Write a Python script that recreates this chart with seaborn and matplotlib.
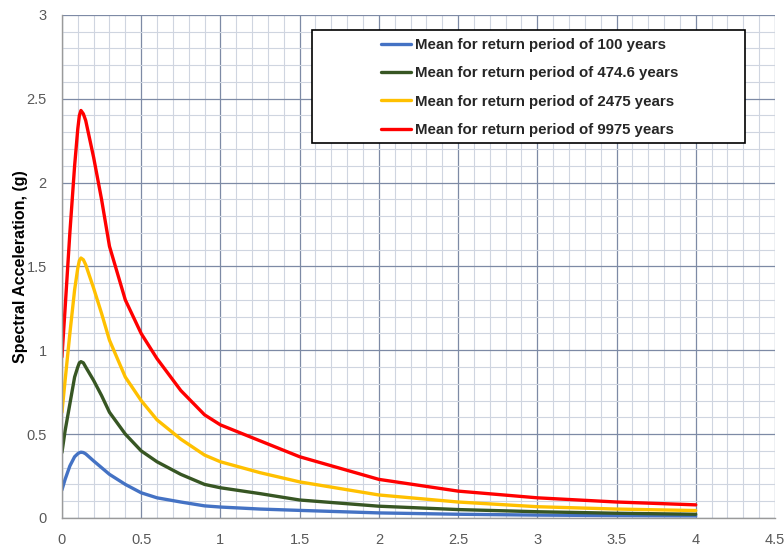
import numpy as np
import pandas as pd
import matplotlib
matplotlib.use("Agg")
import matplotlib.pyplot as plt
import seaborn as sns
from matplotlib.ticker import MultipleLocator, FormatStrFormatter
from matplotlib.patches import Rectangle

# periods (s)
period = [0, 0.02, 0.05, 0.08, 0.1, 0.11, 0.12, 0.135, 0.15, 0.2, 0.25, 0.3, 0.4,
          0.5, 0.6, 0.75, 0.9, 1.0, 1.25, 1.5, 2.0, 2.5, 3.0, 3.5, 4.0]

sa_100 = [0.167, 0.23, 0.31, 0.365, 0.383, 0.389, 0.392, 0.39, 0.382, 0.34, 0.30,
          0.26, 0.20, 0.15, 0.12, 0.095, 0.072, 0.065, 0.053, 0.045, 0.03, 0.022,
          0.017, 0.014, 0.012]
sa_475 = [0.39, 0.52, 0.68, 0.84, 0.90, 0.925, 0.932, 0.925, 0.90, 0.82, 0.73,
          0.63, 0.50, 0.40, 0.335, 0.26, 0.20, 0.18, 0.145, 0.107, 0.07, 0.05,
          0.037, 0.028, 0.022]
sa_2475 = [0.63, 0.82, 1.10, 1.36, 1.49, 1.535, 1.55, 1.54, 1.51, 1.37, 1.22,
           1.06, 0.84, 0.70, 0.585, 0.47, 0.375, 0.335, 0.27, 0.215, 0.137, 0.095,
           0.067, 0.053, 0.044]
sa_9975 = [0.96, 1.25, 1.70, 2.10, 2.32, 2.40, 2.43, 2.41, 2.37, 2.15, 1.90, 1.62,
           1.30, 1.10, 0.95, 0.76, 0.615, 0.555, 0.46, 0.365, 0.23, 0.16, 0.12,
           0.095, 0.078]

labels = ["Mean for return period of 100 years",
          "Mean for return period of 474.6 years",
          "Mean for return period of 2475 years",
          "Mean for return period of 9975 years"]
colors = ["#4472C4", "#375623", "#FFC000", "#FF0000"]

frames = []
for lab, vals in zip(labels, [sa_100, sa_475, sa_2475, sa_9975]):
    frames.append(pd.DataFrame({"T": period, "Sa": vals, "series": lab}))
df = pd.concat(frames, ignore_index=True)

sns.set_style("white")
plt.rcParams["font.family"] = ["Liberation Sans", "DejaVu Sans"]

fig = plt.figure(figsize=(7.84, 5.51), dpi=100)
ax = fig.add_axes([0.079, 0.06, 0.9095, 0.913])

sns.lineplot(data=df, x="T", y="Sa", hue="series", palette=colors,
             hue_order=labels, sort=False, estimator=None, linewidth=2.4, ax=ax)

ax.set_xlim(0, 4.5)
ax.set_ylim(0, 3)
ax.xaxis.set_major_locator(MultipleLocator(0.5))
ax.xaxis.set_minor_locator(MultipleLocator(0.1))
ax.yaxis.set_major_locator(MultipleLocator(0.5))
ax.yaxis.set_minor_locator(MultipleLocator(0.1))
ax.xaxis.set_major_formatter(FormatStrFormatter("%g"))
ax.yaxis.set_major_formatter(FormatStrFormatter("%g"))

ax.grid(which="major", color="#7d8aa5", linewidth=0.9)
ax.grid(which="minor", color="#cfd5e0", linewidth=0.8)
ax.set_axisbelow(True)

for s in ["top", "right"]:
    ax.spines[s].set_visible(False)
for s in ["left", "bottom"]:
    ax.spines[s].set_color("#9a9a9a")
    ax.spines[s].set_linewidth(1.0)

ax.tick_params(which="major", direction="out", length=5, color="#9a9a9a",
               labelsize=10.5, labelcolor="#595959", pad=6)
ax.tick_params(which="minor", direction="out", length=3, color="#9a9a9a")
ax.tick_params(axis="y", which="minor", length=0)

ax.set_xlabel("")
ax.set_ylabel("Spectral Acceleration, (g)", fontsize=11.5, fontweight="bold",
              color="black")
ax.yaxis.set_label_coords(-0.048, 0.5)

# legend box (wider than its content, as in the original)
box = Rectangle((0.3506, 0.7455), 0.6074, 0.2245, transform=ax.transAxes,
                facecolor="white", edgecolor="black", linewidth=1.2, zorder=5)
ax.add_patch(box)

leg = ax.legend(loc="upper left", bbox_to_anchor=(0.447, 0.954),
                prop={"weight": "bold", "size": 10.8}, frameon=False,
                handlelength=2.0, handletextpad=0.27,
                labelspacing=0.95, borderpad=0, borderaxespad=0)
leg.set_zorder(6)
for line in leg.get_lines():
    line.set_linewidth(2.4)

fig.savefig("out.png", dpi=100)
